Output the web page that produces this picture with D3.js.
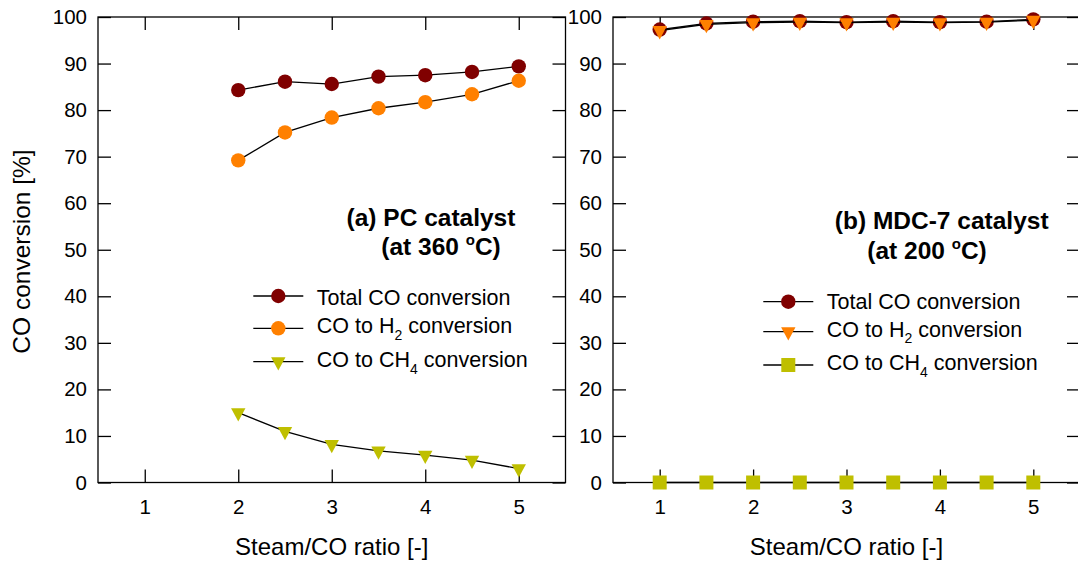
<!DOCTYPE html>
<html>
<head>
<meta charset="utf-8">
<script src="https://cdn.jsdelivr.net/npm/d3@7"></script>
<style>
body { margin: 0; background: #fff; }
text { font-family: "Liberation Sans", Arial, sans-serif; fill: #000; }
</style>
</head>
<body>
<script>
// steam/CO ratios
var ratioA = [2, 2.5, 3, 3.5, 4, 4.5, 5]
var ratioB = [1, 1.5, 2, 2.5, 3, 3.5, 4, 4.5, 5]

// (a) PC catalyst at 360 C
var totalA = [84.3, 86.1, 85.6, 87.2, 87.5, 88.2, 89.4]
var h2A    = [69.2, 75.2, 78.4, 80.4, 81.7, 83.4, 86.3]
var ch4A   = [15.0, 11.0, 8.2, 6.8, 5.9, 4.8, 3.0]

// (b) MDC-7 catalyst at 200 C
var totalB = [97.3, 98.6, 99.0, 99.1, 98.9, 99.1, 98.9, 99.0, 99.5]
var h2B    = [97.1, 98.4, 98.8, 98.9, 98.8, 98.9, 98.8, 98.9, 99.3]
var ch4B   = [0, 0, 0, 0, 0, 0, 0, 0, 0]

var xTicks = [1, 2, 3, 4, 5]
var yTicks = [0, 10, 20, 30, 40, 50, 60, 70, 80, 90, 100]

var cTotal = "#800000"
var cH2 = "#ff8000"
var cCH4 = "#bfbf00"

var svg = d3.select("body").append("svg")
    .attr("width", 1078)
    .attr("height", 564)

var plotTop = 17, plotBottom = 482.5

// y axis title
svg.append("text")
    .attr("transform", "translate(29.5,251.5) rotate(-90)")
    .attr("text-anchor", "middle")
    .style("font-size", "24.5px")
    .text("CO conversion [%]")

var marker = function(g, type, color, x, y)
{
    if (type == "circle") {
        g.append("circle").attr("cx", x).attr("cy", y).attr("r", 7.2).attr("fill", color)
    } else if (type == "square") {
        g.append("rect").attr("x", x - 7).attr("y", y - 7).attr("width", 14).attr("height", 14).attr("fill", color)
    } else {
        g.append("path")
            .attr("d", "M" + (x - 7.2) + "," + (y - 4.4) + "L" + (x + 7.2) + "," + (y - 4.4) + "L" + x + "," + (y + 8.9) + "Z")
            .attr("fill", color)
    }
}

// label with optional subscript e.g. ["CO to H", "2", " conversion"]
var richLabel = function(g, parts, x, y, size)
{
    var t = g.append("text").attr("x", x).attr("y", y).style("font-size", size + "px")
    t.append("tspan").text(parts[0])
    if (parts.length > 1) {
        t.append("tspan").attr("dy", 6.5).style("font-size", "14px").text(parts[1])
        t.append("tspan").attr("dy", -6.5).text(parts[2])
    }
}

var drawPanel = function(p)
{
    var xScale = d3.scaleLinear().domain([0.5, 5.5]).range([p.x0, p.x1])
    var yScale = d3.scaleLinear().domain([0, 100]).range([plotBottom, plotTop])

    var g = svg.append("g")

    g.append("g")
        .attr("transform", "translate(" + p.x0 + ",0)")
        .call(d3.axisLeft(yScale).tickValues(yTicks).tickSize(-13).tickPadding(11).tickSizeOuter(0).tickFormat(d3.format("d")))
    g.append("g")
        .attr("transform", "translate(" + p.x1 + ",0)")
        .call(d3.axisRight(yScale).tickValues(yTicks).tickSize(-13).tickFormat("").tickSizeOuter(0))
    g.append("g")
        .attr("transform", "translate(0," + plotBottom + ")")
        .call(d3.axisBottom(xScale).tickValues(xTicks).tickSize(-13).tickPadding(17).tickSizeOuter(0).tickFormat(d3.format("d")))
    g.append("g")
        .attr("transform", "translate(0," + plotTop + ")")
        .call(d3.axisTop(xScale).tickValues(xTicks).tickSize(-13).tickFormat("").tickSizeOuter(0))

    g.selectAll(".domain").remove()
    g.selectAll(".tick line").attr("stroke", "#000").attr("stroke-width", 1.3)
    g.selectAll(".tick text").style("font-size", "20.5px").attr("fill", "#000")
        .style("font-family", "'Liberation Sans', Arial, sans-serif")

    g.append("rect")
        .attr("x", p.x0).attr("y", plotTop)
        .attr("width", p.x1 - p.x0).attr("height", plotBottom - plotTop)
        .attr("fill", "none").attr("stroke", "#000").attr("stroke-width", 1.3)

    // x title
    g.append("text")
        .attr("x", (p.x0 + p.x1) / 2)
        .attr("y", 555)
        .attr("text-anchor", "middle")
        .style("font-size", "24px")
        .text("Steam/CO ratio [-]")

    var line = d3.line()
        .x(function(d) { return xScale(d[0]) })
        .y(function(d) { return yScale(d[1]) })

    p.series.forEach(function(s)
    {
        var pts = p.ratio.map(function(r, i) { return [r, s.values[i]] })
        g.append("path")
            .attr("d", line(pts))
            .attr("fill", "none")
            .attr("stroke", "#000")
            .attr("stroke-width", 1.3)
        pts.forEach(function(d) { marker(g, s.marker, s.color, xScale(d[0]), yScale(d[1])) })
    })

    // legend
    p.series.forEach(function(s, i)
    {
        var ly = p.legend.rows[i]
        g.append("line")
            .attr("x1", p.legend.x - 25).attr("x2", p.legend.x + 25)
            .attr("y1", ly).attr("y2", ly)
            .attr("stroke", "#000").attr("stroke-width", 1.3)
        marker(g, s.marker, s.color, p.legend.x, ly)
        richLabel(g, s.label, p.legend.x + 38.5, p.legend.text[i], 21.5)
    })

    // panel title
    g.append("text")
        .attr("x", p.title.x1).attr("y", p.title.y1)
        .attr("text-anchor", "middle")
        .style("font-size", "24.5px").style("font-weight", "bold")
        .text(p.title.line1)
    var t2 = g.append("text")
        .attr("x", p.title.x2).attr("y", p.title.y2)
        .attr("text-anchor", "middle")
        .style("font-size", "24.5px").style("font-weight", "bold")
    t2.append("tspan").text(p.title.line2)
    t2.append("tspan").attr("dy", -10).style("font-size", "15px").text("o")
    t2.append("tspan").attr("dy", 10).text("C)")
}

drawPanel({
    x0: 98, x1: 565.5,
    ratio: ratioA,
    series: [
        {values: totalA, marker: "circle", color: cTotal, label: ["Total CO conversion"]},
        {values: h2A, marker: "circle", color: cH2, label: ["CO to H", "2", " conversion"]},
        {values: ch4A, marker: "triangle", color: cCH4, label: ["CO to CH", "4", " conversion"]}
    ],
    legend: {x: 278.3, rows: [296, 328.3, 361.7], text: [305, 333.3, 367.3]},
    title: {line1: "(a) PC catalyst", line2: "(at 360 ", x1: 431, y1: 226, x2: 441, y2: 255}
})

drawPanel({
    x0: 613, x1: 1080,
    ratio: ratioB,
    series: [
        {values: totalB, marker: "circle", color: cTotal, label: ["Total CO conversion"]},
        {values: h2B, marker: "triangle", color: cH2, label: ["CO to H", "2", " conversion"]},
        {values: ch4B, marker: "square", color: cCH4, label: ["CO to CH", "4", " conversion"]}
    ],
    legend: {x: 788.3, rows: [301.7, 331.7, 365], text: [309.3, 336.7, 370]},
    title: {line1: "(b) MDC-7 catalyst", line2: "(at 200 ", x1: 941.7, y1: 229, x2: 927, y2: 259}
})
</script>
</body>
</html>
